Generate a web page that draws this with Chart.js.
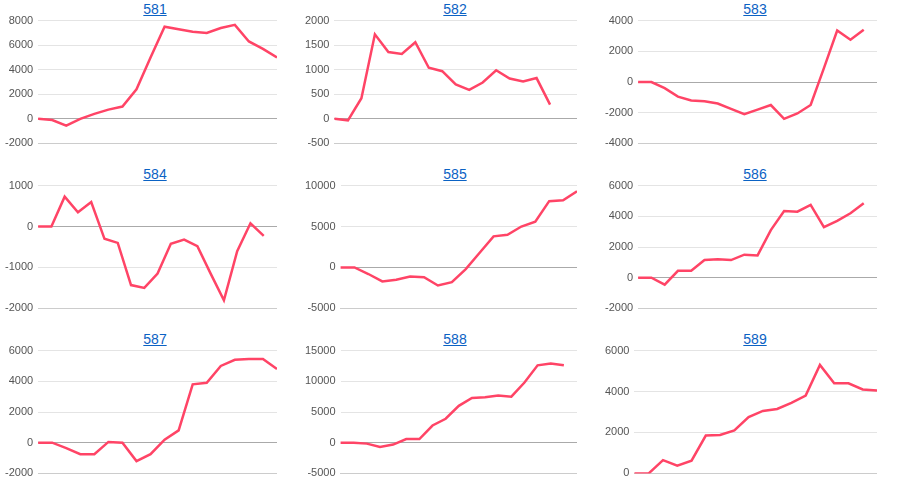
<!DOCTYPE html>
<html>
<head>
<meta charset="utf-8">
<script src="https://cdn.jsdelivr.net/npm/chart.js@4"></script>
<style>
  body { margin: 0; background: #fff; font-family: Arial, "Liberation Sans", sans-serif; }
  .cell { position: absolute; width: 300px; height: 165px; }
  .cell a { position: absolute; top: 1px; left: 0; width: 310px; text-align: center; color: #0b62c4; font-size: 14px; text-decoration: underline; }
  .cell canvas { position: absolute; top: 9px; left: 0; }
</style>
</head>
<body>
<div id="grid"></div>
<script>
const titles = ['581', '582', '583', '584', '585', '586', '587', '588', '589'];

const s581 = [0, -100, -550, 0, 400, 750, 1000, 2400, 5000, 7500, 7300, 7100, 7000, 7400, 7650, 6300, 5700, 5000];
const s582 = [0, -30, 420, 1720, 1360, 1320, 1560, 1040, 970, 700, 590, 740, 990, 820, 760, 830, 290, null, null];
const s583 = [0, 0, -400, -950, -1200, -1250, -1400, -1750, -2100, -1800, -1500, -2400, -2050, -1500, 900, 3350, 2750, 3400, null];
const s584 = [0, 0, 730, 350, 600, -300, -400, -1430, -1500, -1150, -420, -320, -480, -1150, -1800, -600, 80, -230, null];
const s585 = [0, 0, -800, -1700, -1500, -1100, -1200, -2200, -1800, -200, 1800, 3800, 4000, 5000, 5600, 8100, 8200, 9300];
const s586 = [0, 0, -450, 450, 450, 1150, 1200, 1150, 1500, 1450, 3100, 4350, 4300, 4750, 3300, 3700, 4200, 4850, null];
const s587 = [0, 0, -350, -750, -750, 50, 0, -1200, -750, 200, 800, 3800, 3900, 5000, 5400, 5450, 5450, 4800];
const s588 = [0, 0, -150, -700, -300, 600, 600, 2800, 3900, 6000, 7300, 7400, 7700, 7500, 9800, 12600, 12900, 12600, null];
const s589 = [0, 0, 650, 380, 620, 1850, 1880, 2100, 2750, 3050, 3150, 3450, 3800, 5300, 4400, 4400, 4100, 4050];

const series = [s581, s582, s583, s584, s585, s586, s587, s588, s589];
const yMin = [-2000, -500, -4000, -2000, -5000, -2000, -2000, -5000, 0];
const yMax = [8000, 2000, 4000, 1000, 10000, 6000, 6000, 15000, 6000];
const yStep = [2000, 500, 2000, 1000, 5000, 2000, 2000, 5000, 2000];

const grid = document.getElementById('grid');

series.forEach((data, i) => {
  const cell = document.createElement('div');
  cell.className = 'cell';
  cell.style.left = (i % 3) * 300 + 'px';
  cell.style.top = Math.floor(i / 3) * 165 + 'px';
  cell.innerHTML = `<a href="#">${titles[i]}</a><canvas width="277" height="146"></canvas>`;
  grid.appendChild(cell);
  const canvas = cell.querySelector('canvas');
  canvas.style.width = '277px';
  canvas.style.height = '146px';

  new Chart(canvas, {
    type: 'line',
    data: {
      labels: data.map((_, k) => k + 1),
      datasets: [{
        data: data,
        borderColor: '#ff4466',
        borderWidth: 2.5,
        pointRadius: 0,
        tension: 0,
        fill: false
      }]
    },
    options: {
      responsive: false,
      animation: false,
      layout: { padding: { top: 2, bottom: 0 } },
      plugins: { legend: { display: false }, tooltip: { enabled: false } },
      scales: {
        x: {
          ticks: { display: false },
          grid: { display: false },
          border: { display: true, color: '#cccccc' }
        },
        y: {
          min: yMin[i],
          max: yMax[i],
          ticks: {
            stepSize: yStep[i],
            color: '#555',
            padding: 5,
            font: { size: 11 },
            callback: v => String(v)
          },
          grid: {
            color: ctx => ctx.tick.value === 0 ? '#aaaaaa' : '#e4e4e4',
            drawTicks: false
          },
          border: { display: false }
        }
      }
    }
  });
});
</script>
</body>
</html>
